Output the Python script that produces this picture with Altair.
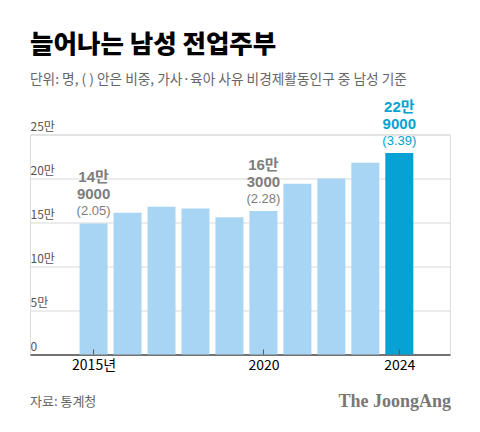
import pandas as pd
import altair as alt

# values (persons)
years = [2015, 2016, 2017, 2018, 2019, 2020, 2021, 2022, 2023, 2024]
counts = [149000, 161000, 168000, 166000, 156000, 163000, 194000, 200000, 218000, 229000]

# annotated years: amount split in two lines, share in brackets
label_years = [2015, 2020, 2024]
label_man = ["14만", "16만", "22만"]
label_rest = ["9000", "3000", "9000"]
label_share = ["(2.05)", "(2.28)", "(3.39)"]

tick_years = [2015, 2020, 2024]
y_ticks = [0, 50000, 100000, 150000, 200000, 250000]

FONT = "Noto Sans CJK KR"
NUM_FONT = "Liberation Sans, Noto Sans CJK KR"
LIGHT = "#a8d5f3"
BLUE = "#05a2d3"
GRAY = "#7d7d7d"

W, H = 420, 220

bars_df = pd.DataFrame({"year": years, "count": counts})
labels_df = pd.DataFrame({
    "year": label_years,
    "count": [counts[years.index(y)] for y in label_years],
    "man": label_man,
    "rest": label_rest,
    "share": label_share,
})

x_scale = alt.Scale(domain=[2013.276, 2025.345], nice=False, zero=False)
y_scale = alt.Scale(domain=[0, 250000], nice=False)

x_axis = alt.Axis(
    values=tick_years, grid=False, ticks=False, domain=True,
    domainColor="#000000", domainWidth=1, labelFlush=False,
    labelExpr="datum.value == 2015 ? '2015년' : '' + datum.value",
    labelFontSize=14, labelColor="#000000", labelFont=FONT,
    labelPadding=4, labelBaseline="top", title=None,
)
y_axis = alt.Axis(
    values=y_ticks, grid=True, gridColor="#d9d9d9", ticks=False, domain=False,
    labelExpr="datum.value == 0 ? '0' : datum.value / 10000 + '만'",
    labelAlign="left", labelBaseline="alphabetic", labelPadding=0,
    labelOffset=-4, labelFontSize=12, labelColor="#555555", labelFont=FONT,
    title=None,
)

bars = alt.Chart(bars_df).mark_bar(size=28).encode(
    x=alt.X("year:Q", scale=x_scale, axis=x_axis),
    y=alt.Y("count:Q", scale=y_scale, axis=y_axis),
    color=alt.condition(alt.datum.year == 2024, alt.value(BLUE), alt.value(LIGHT)),
)

ticks = alt.Chart(pd.DataFrame({"year": tick_years})).mark_rule(
    color="#555555", strokeWidth=1
).encode(
    x=alt.X("year:Q", scale=x_scale),
    y=alt.value(H - 5),
    y2=alt.value(H),
)

label_color = alt.condition(alt.datum.year == 2024, alt.value(BLUE), alt.value(GRAY))
base = alt.Chart(labels_df).encode(
    x=alt.X("year:Q", scale=x_scale),
    y=alt.Y("count:Q", scale=y_scale),
    color=label_color,
)
line1 = base.mark_text(font=NUM_FONT, fontSize=15, fontWeight="bold", baseline="alphabetic", dy=-41).encode(text="man:N")
line2 = base.mark_text(font=NUM_FONT, fontSize=15, fontWeight="bold", baseline="alphabetic", dy=-24).encode(text="rest:N")
line3 = base.mark_text(font=NUM_FONT, fontSize=13, baseline="alphabetic", dy=-8).encode(text="share:N")

footer_df = pd.DataFrame({"source": ["자료: 통계청"], "brand": ["The JoongAng"]})
source = alt.Chart(footer_df).mark_text(
    font=FONT, fontSize=13, color="#666666", align="left", baseline="middle"
).encode(x=alt.value(0), y=alt.value(H + 47), text="source:N")
brand = alt.Chart(footer_df).mark_text(
    font="Liberation Serif", fontSize=18, fontWeight="bold", color="#777777",
    align="right", baseline="middle"
).encode(x=alt.value(W + 1), y=alt.value(H + 47), text="brand:N")

chart = alt.layer(bars, ticks, line1, line2, line3, source, brand).properties(
    width=W,
    height=H,
    autosize=alt.AutoSizeParams(type="none"),
    padding={"left": 22, "top": 126.5, "right": 22, "bottom": 60},
    title=alt.TitleParams(
        text="늘어나는 남성 전업주부",
        subtitle="단위: 명, ( ) 안은 비중, 가사·육아 사유 비경제활동인구 중 남성 기준",
        anchor="start", frame="group", font=FONT, fontSize=25.5, fontWeight=900,
        color="#000000", subtitleFont=FONT, subtitleFontSize=13.7,
        subtitleColor="#666666", subtitlePadding=15, offset=13,
    ),
).configure_view(stroke=None).configure(background="#ffffff")

chart.save("out.html", embed_options={"renderer": "svg", "actions": False})
